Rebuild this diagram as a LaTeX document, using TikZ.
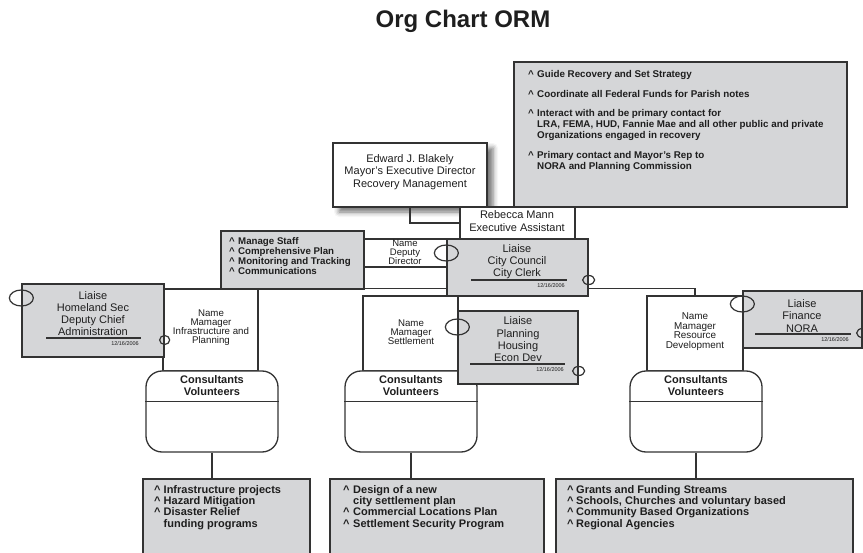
\documentclass[tikz,border=0pt]{standalone}
\usepackage{fontspec}
\setmainfont{Liberation Sans}
\usetikzlibrary{fit,calc,shadows.blur}

\definecolor{boxgray}{HTML}{D5D6D8}
\definecolor{linec}{HTML}{333333}
\definecolor{txtc}{HTML}{1E1E1E}

\newcommand\fsz[2]{\fontsize{#1}{#2}\selectfont}
% bullet caret with a fixed-width slot, and the matching indent for wrapped lines
\newcommand\cb[1]{\makebox[#1][l]{\textasciicircum}}
\newcommand\ct[1]{\hspace*{#1}}

\tikzset{
  ln/.style={draw=linec, line width=1.3pt},
  wbox/.style={ln, fill=white, inner sep=0pt},
  gbox/.style={ln, fill=boxgray, inner sep=0pt},
  cons/.style={ln, fill=white, inner sep=0pt, rounded corners=16pt},
  txt/.style={inner sep=0pt, align=center, text=txtc},
  lst/.style={inner sep=0pt, align=left, text=txtc, anchor=north west},
  datel/.style={inner sep=0pt, anchor=east, text=txtc, font=\fsz{5.5}{6}},
  ring/.style={draw=linec, line width=1.2pt},
  uline/.style={draw=linec, line width=1.1pt},
  conn/.style={ln},
}

\begin{document}
\begin{tikzpicture}[x=1pt, y=-1pt]
\clip (0,0) rectangle (863,553);
\useasboundingbox (0,0) rectangle (863,553);

% title
\node[txt, font=\bfseries\fsz{24}{28}] (title) at (463,21) {Org Chart ORM};

% main horizontal bus under the director level
\coordinate (busR) at (695,289);

% --- director level
\node[wbox, fit={(333,143) (487,207)},
      blur shadow={shadow xshift=6pt, shadow yshift=-5pt, shadow blur radius=5pt, shadow opacity=55}] (ed) {};
\node[txt, font=\fsz{11}{12.5}] (edt) at (410,172)
  {Edward J. Blakely\\Mayor’s Executive Director\\Recovery Management};

\node[gbox, fit={(514,62) (847,207)}] (goals) {};
\node[lst, font=\bfseries\fsz{9.8}{10.8}] (goalst) at (528,70.5)
  {\cb{9pt}Guide Recovery and Set Strategy\\[9pt]
   \cb{9pt}Coordinate all Federal Funds for Parish notes\\[8.5pt]
   \cb{9pt}Interact with and be primary contact for\\
   \ct{9pt}LRA, FEMA, HUD, Fannie Mae and all other public and private\\
   \ct{9pt}Organizations engaged in recovery\\[9pt]
   \cb{9pt}Primary contact and Mayor’s Rep to\\
   \ct{9pt}NORA and Planning Commission};

\node[wbox, fit={(460,207) (575,239)}] (rm) {};
\node[txt, font=\fsz{11}{13}] (rmt) at (517,221.5) {Rebecca Mann\\Executive Assistant};
\draw[conn] (ed.south) |- (rm.west);

% --- deputy level
\node[wbox, fit={(158,289) (695,289)}, draw=none, fill=none] (busline) {};
\node[wbox, fit={(364,239) (447,267)}] (dep) {};
\node[txt, font=\fsz{9.5}{9.2}] (dept) at (405,252.5) {Name\\Deputy\\Director};

\node[gbox, fit={(221,231) (364,289)}] (staff) {};
\node[lst, font=\bfseries\fsz{9.7}{10}] (stafft) at (229,237)
  {\cb{9pt}Manage Staff\\
   \cb{9pt}Comprehensive Plan\\
   \cb{9pt}Monitoring and Tracking\\
   \cb{9pt}Communications};

% --- manager level
\node[wbox, fit={(163,289) (258,371)}] (infra) {};
\node[wbox, fit={(363,296) (458,371)}] (settle) {};
\node[wbox, fit={(647,296) (743,371)}] (res) {};
\draw[conn] (infra.north west) -| (res.north);

\node[gbox, fit={(447,239) (588,296)}] (cc) {};
\node[txt, font=\fsz{11}{12}] (cct) at (517,262) {Liaise\\City Council\\City Clerk};
\draw[uline] (471,280) -- (567,280);
\node[datel] (ccd) at (565,285.5) {12/16/2006};

\node[txt, font=\fsz{9.7}{9.2}] (infrat) at (211,327.5)
  {Name\\Mamager\\Infrastructure and\\Planning};
\node[txt, font=\fsz{9.7}{9.2}] (settlet) at (411,332) {Name\\Mamager\\Settlement};
\node[txt, font=\fsz{9.9}{9.6}] (rest) at (695,331.5)
  {Name\\Mamager\\Resource\\Development};

% --- consultants / volunteers groups
\node[cons, fit={(146,371) (278,452)}] (c1) {};
\node[cons, fit={(345,371) (477,452)}] (c2) {};
\node[cons, fit={(630,371) (762,452)}] (c3) {};
\foreach \c/\x in {c1/212, c2/411, c3/696} {
  \draw[ln] ($(\c.north west)+(0,31)$) -- ($(\c.north east)+(0,31)$);
  \node[txt, font=\bfseries\fsz{11}{12}] (\c t) at (\x,386) {Consultants\\Volunteers};
}

% --- task lists
\node[gbox, fit={(143,479) (310,570)}] (l1) {};
\node[gbox, fit={(330,479) (544,570)}] (l2) {};
\node[gbox, fit={(556,479) (853,570)}] (l3) {};
\draw[conn] (c1.south) -- (c1.south |- l1.north);
\draw[conn] (c2.south) -- (c2.south |- l2.north);
\draw[conn] (c3.south) -- (c3.south |- l3.north);

\node[lst, font=\bfseries\fsz{11}{11.3}] (l1t) at (154,485)
  {\cb{9.5pt}Infrastructure projects\\
   \cb{9.5pt}Hazard Mitigation\\
   \cb{9.5pt}Disaster Relief\\
   \ct{9.5pt}funding programs};
\node[lst, font=\bfseries\fsz{11}{11.3}] (l2t) at (343,485)
  {\cb{10pt}Design of a new\\
   \ct{10pt}city settlement plan\\
   \cb{10pt}Commercial Locations Plan\\
   \cb{10pt}Settlement Security Program};
\node[lst, font=\bfseries\fsz{11}{11.3}] (l3t) at (567,485)
  {\cb{9pt}Grants and Funding Streams\\
   \cb{9pt}Schools, Churches and voluntary based\\
   \cb{9pt}Community Based Organizations\\
   \cb{9pt}Regional Agencies};

% --- liaison cards
\node[gbox, fit={(22,284) (164,357)}] (hs) {};
\node[txt, font=\fsz{11}{12}] (hst) at (93,314)
  {Liaise\\Homeland Sec\\Deputy Chief\\Administration};
\draw[uline] (46,338) -- (141,338);
\node[datel] (hsd) at (139,343.5) {12/16/2006};

\node[gbox, fit={(458,311) (578,384)}] (ph) {};
\node[txt, font=\fsz{11}{12.3}] (pht) at (518,339.5)
  {Liaise\\Planning\\Housing\\Econ Dev};
\draw[uline] (470,364) -- (565,364);
\node[datel] (phd) at (564,369.5) {12/16/2006};

\node[gbox, fit={(743,291) (862,348)}] (fin) {};
\node[txt, font=\fsz{11}{12.5}] (fint) at (802,316) {Liaise\\Finance\\NORA};
\draw[uline] (755,334) -- (851,334);
\node[datel] (find) at (849,339.5) {12/16/2006};

% liaison rings on the card edges
\draw[ring] (hs.west |- 0,298) ellipse [x radius=12pt, y radius=8pt];
\draw[ring] (hs.east |- 0,340) ellipse [x radius=5pt, y radius=4.5pt];
\draw[ring] (cc.west |- 0,253) ellipse [x radius=12pt, y radius=8pt];
\draw[ring] (cc.east |- 0,280) ellipse [x radius=6pt, y radius=4.5pt];
\draw[ring] (ph.west |- 0,327) ellipse [x radius=12pt, y radius=8pt];
\draw[ring] (ph.east |- 0,371) ellipse [x radius=6pt, y radius=4.5pt];
\draw[ring] (fin.west |- 0,304) ellipse [x radius=12pt, y radius=8pt];
\draw[ring] (fin.east |- 0,333) ellipse [x radius=6pt, y radius=4.5pt];
\end{tikzpicture}
\end{document}
